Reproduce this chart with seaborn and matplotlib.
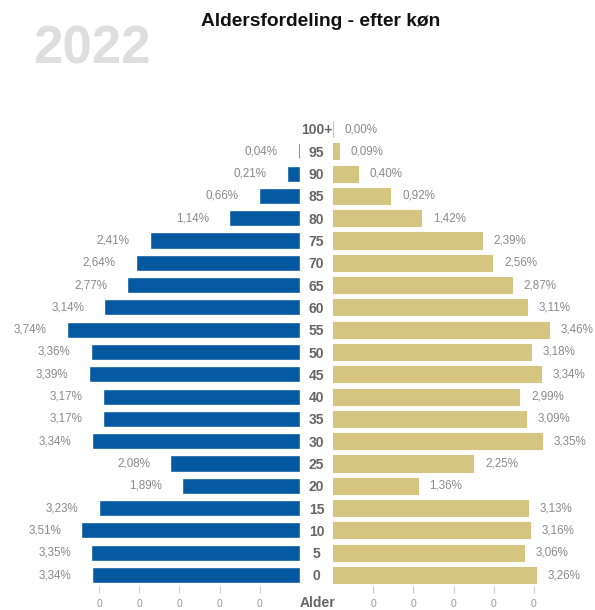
import numpy as np
import pandas as pd
import matplotlib
matplotlib.use("Agg")
import matplotlib.pyplot as plt
import seaborn as sns

# age groups top to bottom
ages = ["100+", "95", "90", "85", "80", "75", "70", "65", "60", "55", "50",
        "45", "40", "35", "30", "25", "20", "15", "10", "5", "0"]
men = [0.00, 0.04, 0.21, 0.66, 1.14, 2.41, 2.64, 2.77, 3.14, 3.74, 3.36,
       3.39, 3.17, 3.17, 3.34, 2.08, 1.89, 3.23, 3.51, 3.35, 3.34]
women = [0.00, 0.09, 0.40, 0.92, 1.42, 2.39, 2.56, 2.87, 3.11, 3.46, 3.18,
         3.34, 2.99, 3.09, 3.35, 2.25, 1.36, 3.13, 3.16, 3.06, 3.26]
tick_vals = [0.645, 1.29, 1.935, 2.58, 3.225]

BLUE = "#0459A1"
GOLD = "#D5C581"
GREY = "#8a8a8a"

df = pd.DataFrame({"Alder": ages, "Mænd": men, "Kvinder": women})

sns.set_theme(style="white")
plt.rcParams["font.family"] = ["Liberation Sans", "DejaVu Sans"]

W, H = 595, 610
fig = plt.figure(figsize=(W / 100, H / 100), dpi=100)
px = 62.3  # pixels per percent
top_px, bot_px = 117.85, 586.15
b = 1 - bot_px / H
h = (bot_px - top_px) / H

axl = fig.add_axes([10 / W, b, 290 / W, h])
axr = fig.add_axes([333 / W, b, 252 / W, h])


def fmt(vals, skip_zero=False):
    return ["" if (skip_zero and v == 0) else f"{v:.2f}%".replace(".", ",")
            for v in vals]


sns.barplot(data=df, y="Alder", x="Mænd", order=ages, color=BLUE,
            width=0.72, ax=axl, saturation=1)
axl.set_xlim(290 / px, 0)
axl.bar_label(axl.containers[0], labels=fmt(men, skip_zero=True),
              padding=14.5, fontsize=8.4, color=GREY)

sns.barplot(data=df, y="Alder", x="Kvinder", order=ages, color=GOLD,
            width=0.72, ax=axr, saturation=1, edgecolor=GOLD, linewidth=0.8)
axr.set_xlim(0, 252 / px)
axr.bar_label(axr.containers[0], labels=fmt(women), padding=8.5,
              fontsize=8.4, color=GREY)

for ax in (axl, axr):
    ax.set_ylim(len(ages) - 0.5, -0.5)
    ax.set_xlabel("")
    ax.set_ylabel("")
    for s in ax.spines.values():
        s.set_visible(False)
    ax.set_xticks(tick_vals)
    ax.set_xticklabels(["0"] * len(tick_vals))
    ax.tick_params(axis="x", bottom=True, length=5, width=0.8,
                   color="#cccccc", labelsize=7.5, labelcolor="#999999", pad=4)

axl.set_yticks([])
axr.tick_params(axis="y", left=False, length=0, pad=11.9)
for lab in axr.get_yticklabels():
    lab.set_ha("center")
    lab.set_fontweight("bold")
    lab.set_fontsize(10)
    lab.set_color("#666666")

fig.text(318 / W, 1 - 603 / H, "Alder", ha="center", va="center",
         fontsize=10, fontweight="bold", color="#666666")
fig.text(321 / W, 1 - 22 / H, "Aldersfordeling - efter køn", ha="center",
         va="center", fontsize=13.8, fontweight="bold", color="#111111")
fig.text(92 / W, 1 - 49 / H, "2022", ha="center", va="center",
         fontsize=38, fontweight="bold", color="#dedede")

fig.savefig("out.png", dpi=100, facecolor="white")
